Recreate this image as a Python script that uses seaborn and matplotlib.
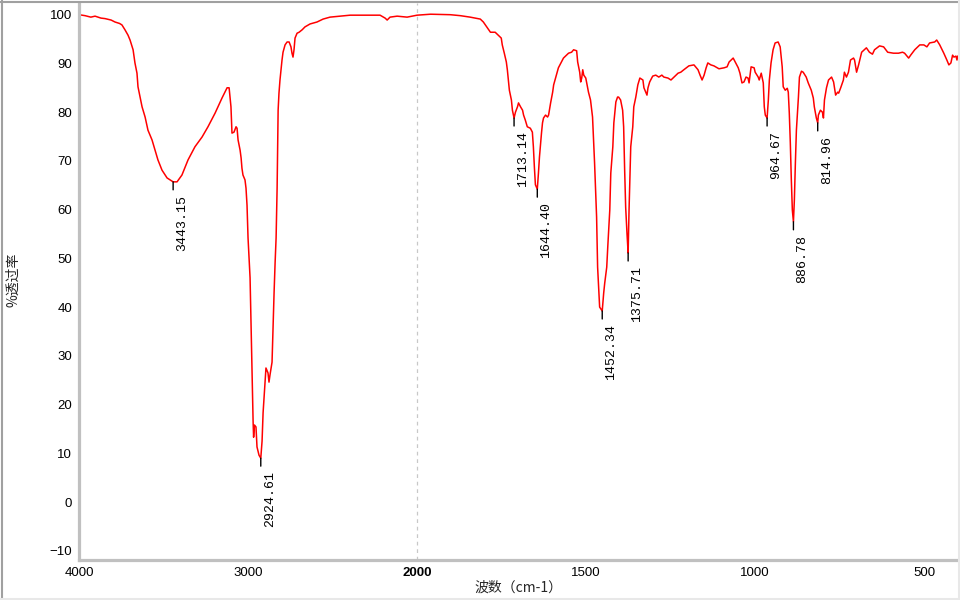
import numpy as np
import pandas as pd
import matplotlib
matplotlib.use("Agg")
import matplotlib.pyplot as plt
from matplotlib.lines import Line2D
import seaborn as sns

# ---------------- data ----------------
# 4000 - 2000 cm-1
wn_high = [
    4000, 3964, 3930, 3905, 3870, 3846, 3810, 3787, 3760, 3746, 3728, 3710, 3698,
    3680, 3669, 3657, 3651, 3639, 3627, 3609, 3592, 3568, 3550, 3533, 3509, 3479,
    3443.15, 3420, 3391, 3355, 3314, 3272, 3237, 3195, 3154, 3124, 3112, 3101, 3095,
    3083, 3071, 3065, 3059, 3047, 3041, 3036, 3030, 3018, 3012, 3006, 3000, 2988,
    2982, 2976, 2970, 2967, 2962, 2953, 2947, 2941, 2935, 2924.61, 2917, 2911, 2905,
    2899, 2894, 2882, 2876, 2870, 2858, 2852, 2846, 2840, 2834, 2828, 2822, 2817,
    2811, 2799, 2793, 2781, 2769, 2757, 2746, 2740, 2734, 2728, 2722, 2710, 2698,
    2680, 2663, 2633, 2592, 2556, 2515, 2456, 2396, 2337, 2219, 2189, 2177, 2160,
    2118, 2059, 2000,
]
t_high = [
    100.0, 99.8, 99.5, 99.7, 99.3, 99.2, 98.9, 98.5, 98.2, 97.9, 96.9, 95.8, 94.8,
    92.8, 90.1, 88.0, 85.2, 83.1, 81.1, 79.0, 76.3, 74.3, 72.2, 70.2, 68.1, 66.5,
    65.7, 65.7, 67.1, 70.2, 72.9, 74.9, 77.0, 79.8, 82.9, 85.0, 85.0, 81.1, 75.7,
    75.9, 77.0, 76.7, 74.3, 72.2, 70.6, 68.5, 67.1, 66.1, 64.4, 60.9, 54.2, 46.0,
    35.9, 25.7, 16.4, 13.3, 15.8, 15.4, 11.3, 10.4, 9.6, 9.0, 12.5, 18.3, 21.5,
    25.0, 27.5, 26.5, 24.6, 26.1, 28.7, 35.9, 42.9, 49.0, 54.2, 64.4, 80.4, 83.9,
    86.6, 90.7, 92.3, 93.8, 94.4, 94.4, 93.4, 92.1, 91.3, 92.8, 95.2, 96.2, 96.4,
    96.9, 97.5, 98.1, 98.5, 99.1, 99.5, 99.7, 99.9, 99.9, 99.9, 99.3, 98.9, 99.5,
    99.7, 99.5, 99.9,
]
# 1960 - 1220 cm-1
wn_mid = [
    1960, 1902, 1872, 1843, 1813, 1804, 1792, 1783, 1769, 1760, 1751, 1748, 1742,
    1736, 1733, 1730, 1727, 1721, 1718, 1713.14, 1709, 1703, 1700, 1694, 1688, 1685,
    1680, 1674, 1665, 1659, 1656, 1653, 1650, 1644.40, 1641, 1638, 1632, 1629, 1626,
    1620, 1614, 1611, 1605, 1599, 1596, 1588, 1582, 1573, 1567, 1558, 1552, 1543,
    1537, 1528, 1525, 1519, 1516, 1513, 1510, 1507, 1501, 1496, 1493, 1487, 1481,
    1478, 1475, 1472, 1469, 1466, 1463, 1460, 1452.34, 1448, 1445, 1439, 1436, 1430,
    1427, 1421, 1418, 1412, 1407, 1404, 1398, 1392, 1389, 1386, 1383, 1379,
    1375.71, 1373, 1368, 1362, 1359, 1353, 1347, 1341, 1332, 1329, 1320, 1317, 1312,
    1303, 1294, 1285, 1276, 1270, 1258, 1249, 1240, 1228, 1220,
]
t_mid = [
    100.1, 100.0, 99.8, 99.5, 99.1, 98.5, 97.3, 96.4, 96.4, 95.8, 95.2, 93.8, 92.1,
    90.3, 88.7, 86.6, 84.5, 82.5, 80.4, 78.8, 80.0, 81.1, 81.9, 81.1, 80.4, 79.4,
    78.4, 77.0, 76.7, 75.9, 72.9, 68.7, 65.1, 64.2, 67.5, 70.8, 75.7, 77.8, 78.8,
    79.4, 79.0, 79.4, 81.9, 84.1, 85.6, 87.6, 89.1, 90.3, 91.1, 91.7, 92.1, 92.3,
    92.8, 92.6, 90.3, 88.2, 86.2, 87.0, 88.7, 87.6, 87.0, 85.2, 84.1, 82.5, 79.0,
    74.3, 69.6, 64.0, 58.5, 48.2, 44.1, 40.0, 39.2, 42.9, 44.9, 48.2, 52.3, 59.9,
    67.5, 72.9, 77.8, 82.1, 83.1, 83.1, 82.5, 80.4, 77.0, 68.1, 60.5, 55.0,
    51.1, 60.0, 72.9, 77.0, 81.1, 83.1, 85.6, 87.0, 86.6, 85.0, 83.5, 85.0, 86.2,
    87.4, 87.6, 87.2, 87.6, 87.2, 87.0, 86.6, 87.2, 88.0, 88.2,
]
# 1211 - 400 cm-1
wn_low = [
    1211, 1196, 1181, 1169, 1163, 1157, 1151, 1145, 1140, 1131, 1122, 1107, 1092,
    1083, 1077, 1065, 1059, 1050, 1045, 1039, 1033, 1027, 1021, 1018, 1012, 1003,
    1000, 991, 988, 982, 976, 973, 970, 964.67, 961, 958, 953, 947, 941,
    932, 926, 920, 917, 911, 905, 902, 899, 896, 893, 890, 886.78, 884,
    881, 878, 872, 869, 863, 858, 849, 843, 834, 828, 825, 819, 814.96,
    813, 807, 801, 798, 795, 789, 783, 774, 768, 762, 756, 753, 747,
    739, 736, 730, 724, 718, 709, 706, 700, 694, 685, 671, 662, 653,
    647, 632, 620, 608, 591, 576, 564, 558, 546, 540, 528, 513, 501,
    492, 484, 469, 463, 454, 442, 433, 427, 421, 416, 412, 406, 403, 401, 400,
]
t_low = [
    88.7, 89.5, 89.7, 88.7, 87.6, 86.6, 87.6, 89.1, 90.1, 89.7, 89.5, 88.9, 89.1,
    89.3, 90.3, 91.1, 90.3, 89.1, 88.0, 86.0, 86.2, 87.2, 87.0, 86.0, 89.3, 89.1,
    88.2, 87.2, 86.6, 88.0, 86.0, 81.1, 79.4, 78.8, 82.5, 86.6, 90.1, 92.8, 94.2,
    94.4, 93.4, 89.3, 85.2, 84.5, 84.9, 84.1, 79.8, 73.7, 66.1, 59.9, 57.5, 62.0,
    69.6, 76.3, 83.1, 87.2, 88.4, 88.2, 87.2, 86.0, 84.5, 82.9, 81.1, 78.8, 77.8,
    79.4, 80.4, 80.0, 78.8, 82.5, 85.0, 86.6, 87.2, 86.2, 83.5, 84.1, 83.9, 85.0,
    86.6, 88.2, 87.2, 88.2, 90.7, 91.1, 90.7, 88.2, 89.7, 92.3, 93.2, 92.3, 91.9,
    92.8, 93.6, 93.4, 92.3, 92.1, 92.1, 92.3, 92.1, 91.1, 91.7, 92.8, 93.8, 93.8,
    93.4, 94.2, 94.4, 94.8, 93.8, 92.1, 90.7, 89.7, 90.1, 91.7, 91.3, 91.5, 90.7, 91.5, 91.3,
]

peak_wavenumbers = [3443.15, 2924.61, 1713.14, 1644.40, 1452.34, 1375.71, 964.67, 886.78, 814.96]
peak_labels = ["3443.15", "2924.61", "1713.14", "1644.40", "1452.34", "1375.71", "964.67", "886.78", "814.96"]

x_major = [4000, 3000, 2000, 1500, 1000, 500]
x_major_labels = ["4000", "3000", "2000", "1500", "1000", "500"]
y_major = list(range(-10, 101, 10))

wavenumber = wn_high + wn_mid + wn_low
transmittance = t_high + t_mid + t_low
df = pd.DataFrame({"wavenumber": wavenumber, "T": transmittance})

# ---------------- styling ----------------
sns.set_theme(style="white")
plt.rcParams["font.family"] = ["Liberation Sans", "Noto Sans CJK SC", "DejaVu Sans"]

fig = plt.figure(figsize=(9.6, 6), dpi=100)
ax = fig.add_axes([79 / 960, 40 / 600, (958 - 79) / 960, (560 - 3) / 600])


def fwd(w):
    w = np.asarray(w, dtype=float)
    return np.where(w >= 2000, 2000 + (w - 2000) / 2.0, w)


def inv(p):
    p = np.asarray(p, dtype=float)
    return np.where(p >= 2000, 2000 + 2.0 * (p - 2000), p)


ax.set_xscale("function", functions=(fwd, inv))

sns.lineplot(data=df, x="wavenumber", y="T", sort=False, estimator=None,
             color="#ff0000", linewidth=1.1, ax=ax)

ax.axvline(2000, color="#c8c8c8", lw=0.9, ls=(0, (3, 3)), zorder=0)

ax.set_xlim(4000, 400)
ax.set_ylim(-11.9, 102.4)

ax.set_xticks(x_major)
ax.set_xticklabels(x_major_labels)
minor_x = [3750, 3500, 3250, 2750, 2500, 2250] + [v for v in range(1900, 400, -100) if v not in x_major]
ax.set_xticks(minor_x, minor=True)
ax.set_yticks(y_major)
ax.set_yticks([v for v in range(-10, 101, 2) if v % 10 != 0], minor=True)

for lab in ax.get_xticklabels():
    if lab.get_text() == "2000":
        lab.set_fontweight("bold")

for s in ["top", "right"]:
    ax.spines[s].set_visible(False)
for s in ["left", "bottom"]:
    ax.spines[s].set_color("#c0c0c0")
    ax.spines[s].set_linewidth(2.3)

ax.tick_params(which="major", direction="out", length=3, width=1, color="black",
               labelsize=9.5, pad=2, labelcolor="black")
ax.tick_params(which="minor", direction="in", length=2, width=1, color="black")
ax.set_xlabel("")
ax.set_ylabel("")
ax.grid(False)

# peak annotations
lookup = dict(zip(wavenumber, transmittance))
for w, lab in zip(peak_wavenumbers, peak_labels):
    t = lookup[w]
    ax.annotate("", xy=(w, t), xytext=(0, -8), textcoords="offset pixels",
                arrowprops=dict(arrowstyle="-", color="black", lw=1, shrinkA=0, shrinkB=0))
    ax.annotate(lab, xy=(w, t), xytext=(9, -13), textcoords="offset pixels",
                rotation=90, ha="center", va="top", fontsize=9.5,
                family=["Liberation Mono", "DejaVu Sans Mono"], color="black")

# axis titles
fig.text(518 / 960, 1 - 588 / 600, "波数（cm-1）", ha="center", va="center",
         fontsize=10, family=["Noto Sans CJK SC", "DejaVu Sans"])
fig.text(13 / 960, 1 - 280 / 600, "%透过率", ha="center", va="center", rotation=90,
         fontsize=10, family=["Noto Sans CJK SC", "DejaVu Sans"])

# window-like border
fig.add_artist(Line2D([1.5 / 960, 1.5 / 960], [0, 1], transform=fig.transFigure, color="#a0a0a0", lw=1.5))
fig.add_artist(Line2D([0, 1], [1 - 1.5 / 600, 1 - 1.5 / 600], transform=fig.transFigure, color="#a0a0a0", lw=1.5))
fig.add_artist(Line2D([0, 1], [1.5 / 600, 1.5 / 600], transform=fig.transFigure, color="#e8e8e8", lw=1.5))
fig.add_artist(Line2D([1 - 1.5 / 960, 1 - 1.5 / 960], [0, 1], transform=fig.transFigure, color="#e8e8e8", lw=1.5))

fig.savefig("out.png", dpi=100)
